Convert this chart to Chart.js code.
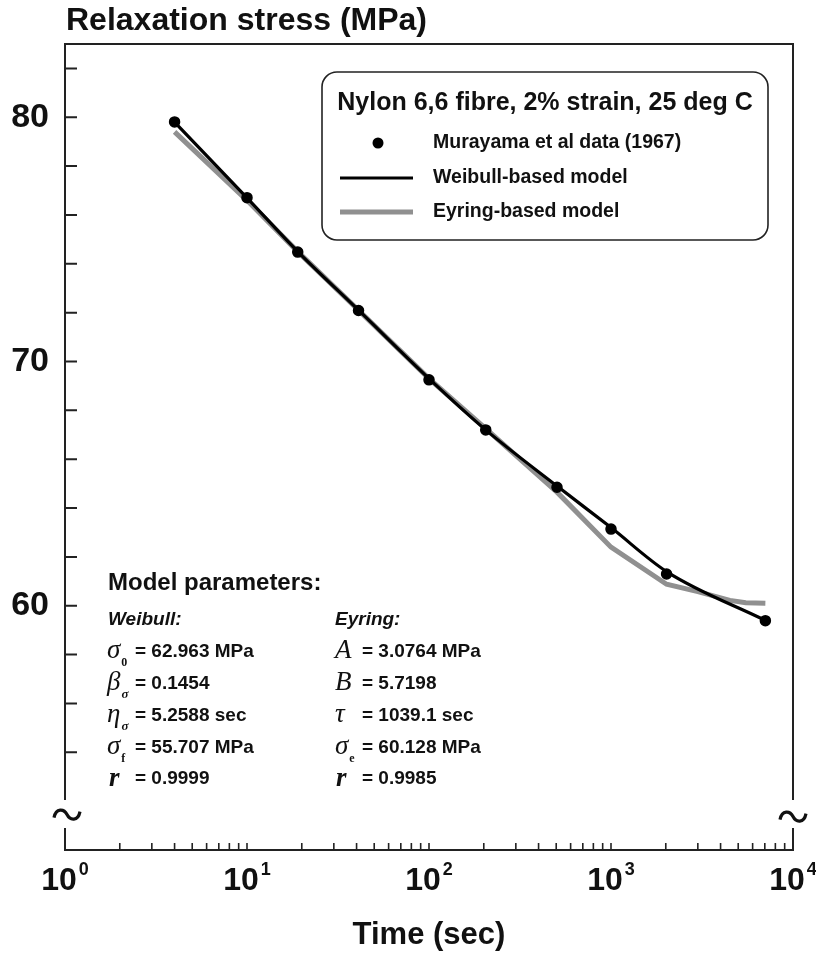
<!DOCTYPE html>
<html><head><meta charset="utf-8">
<script src="https://cdn.jsdelivr.net/npm/chart.js@4.4.1/dist/chart.umd.min.js"></script>
<style>
html,body{margin:0;padding:0;background:#fff;}
#wrap{position:relative;width:816px;height:956px;overflow:hidden;}
canvas{position:absolute;left:0;top:0;}
.t{position:absolute;font-family:"Liberation Sans",Arial,sans-serif;font-weight:bold;color:#111;white-space:nowrap;transform:translateY(-50%);line-height:1;}
.h{font-size:24px;}
.it{font-style:italic;font-size:19px;}
.v{font-size:19px;}
.sym{font-family:"Liberation Serif","Times New Roman",serif;font-style:italic;font-weight:normal;font-size:27px;}
.symb{font-family:"Liberation Serif","Times New Roman",serif;font-style:italic;font-weight:bold;font-size:27px;}
.sb{font-family:"Liberation Serif","Times New Roman",serif;font-style:normal;font-weight:bold;font-size:12px;position:relative;top:8px;margin-left:1px;}
.sbs{font-family:"Liberation Serif","Times New Roman",serif;font-style:italic;font-weight:bold;font-size:13px;position:relative;top:8px;margin-left:1px;}
</style></head><body>
<div id="wrap">
<canvas id="c" width="816" height="956"></canvas>
<div class="t h" style="left:108px;top:582px">Model parameters:</div>
<div class="t it" style="left:108px;top:618px">Weibull:</div>
<div class="t it" style="left:335px;top:618px">Eyring:</div>

<div class="t" style="left:107px;top:649px"><span class="sym">σ</span><span class="sb">0</span></div>
<div class="t v" style="left:135px;top:650px">= 62.963 MPa</div>
<div class="t" style="left:107px;top:681px"><span class="sym">β</span><span class="sbs">σ</span></div>
<div class="t v" style="left:135px;top:682px">= 0.1454</div>
<div class="t" style="left:107px;top:713px"><span class="sym">η</span><span class="sbs">σ</span></div>
<div class="t v" style="left:135px;top:714px">= 5.2588 sec</div>
<div class="t" style="left:107px;top:745px"><span class="sym">σ</span><span class="sb">f</span></div>
<div class="t v" style="left:135px;top:746px">= 55.707 MPa</div>
<div class="t" style="left:109px;top:777px"><span class="symb">r</span></div>
<div class="t v" style="left:135px;top:777px">= 0.9999</div>

<div class="t" style="left:335px;top:649px"><span class="sym">A</span></div>
<div class="t v" style="left:362px;top:650px">= 3.0764 MPa</div>
<div class="t" style="left:335px;top:681px"><span class="sym">B</span></div>
<div class="t v" style="left:362px;top:682px">= 5.7198</div>
<div class="t" style="left:335px;top:713px"><span class="sym">τ</span></div>
<div class="t v" style="left:362px;top:714px">= 1039.1 sec</div>
<div class="t" style="left:335px;top:745px"><span class="sym">σ</span><span class="sb">e</span></div>
<div class="t v" style="left:362px;top:746px">= 60.128 MPa</div>
<div class="t" style="left:336px;top:777px"><span class="symb">r</span></div>
<div class="t v" style="left:362px;top:777px">= 0.9985</div>
</div>
<script>
// ---- data ----
const timeSec    = [4, 10, 19, 41, 100, 205, 505, 1000, 2020, 7050];
const stressData = [79.81, 76.71, 74.48, 72.09, 69.25, 67.20, 64.85, 63.14, 61.30, 59.39];

const weibullTime   = [4, 10, 19, 41, 100, 205, 505, 1000, 2020, 7050];
const weibullStress = [79.8, 76.7, 74.5, 72.1, 69.3, 67.2, 64.9, 63.2, 61.4, 59.4];

const eyringTime   = [4, 10, 19, 41, 100, 205, 505, 1000, 2020, 3000, 4500, 5500, 7050];
const eyringStress = [79.4, 76.6, 74.5, 72.1, 69.3, 67.25, 64.65, 62.4, 60.88, 60.58, 60.22, 60.12, 60.1];

const yLabelValues = [60, 70, 80];
const yTickValues  = [54, 56, 58, 60, 62, 64, 66, 68, 70, 72, 74, 76, 78, 80, 82];
const xDecades     = [1, 10, 100, 1000, 10000];
const xExponents   = ['0', '1', '2', '3', '4'];
const xMinorFactors = [2, 3, 4, 5, 6, 7, 8, 9];

const seriesLabels = ['Murayama et al data (1967)', 'Weibull-based model', 'Eyring-based model'];
const legendTitle = 'Nylon 6,6 fibre, 2% strain, 25 deg C';
const yTitle = 'Relaxation stress (MPa)';
const xTitle = 'Time (sec)';

const SANS = '"Liberation Sans", Arial, sans-serif';
const NARROW = '"Liberation Sans Narrow", "Liberation Sans", Arial, sans-serif';
const INK = '#111';
const GREY = '#909090';

function pts(xs, ys) { return xs.map((x, i) => ({ x: x, y: ys[i] })); }

function tilde(ctx, cx, cy) {
  ctx.beginPath();
  ctx.moveTo(cx - 13, cy + 3);
  ctx.bezierCurveTo(cx - 11, cy - 7, cx - 3, cy - 6, cx, cy);
  ctx.bezierCurveTo(cx + 3, cy + 6, cx + 11, cy + 7, cx + 13, cy - 3);
  ctx.stroke();
}

const decor = {
  id: 'decor',
  beforeDatasetsDraw(chart) {
    const ctx = chart.ctx;
    const { left, right, top, bottom } = chart.chartArea;
    const ys = chart.scales.y, xs = chart.scales.x;
    const bTop = ys.getPixelForValue(52.05), bBot = ys.getPixelForValue(50.9), bMid = ys.getPixelForValue(51.45);
    ctx.save();
    ctx.strokeStyle = '#222';
    ctx.lineWidth = 2;
    ctx.beginPath();
    ctx.moveTo(left, bTop); ctx.lineTo(left, top); ctx.lineTo(right, top); ctx.lineTo(right, bTop);
    ctx.moveTo(left, bBot); ctx.lineTo(left, bottom); ctx.lineTo(right, bottom); ctx.lineTo(right, bBot);
    ctx.stroke();
    // y ticks (inward)
    ctx.beginPath();
    yTickValues.forEach(v => { const y = ys.getPixelForValue(v); ctx.moveTo(left, y); ctx.lineTo(left + 12, y); });
    ctx.stroke();
    // x ticks (inward)
    ctx.lineWidth = 1.6;
    ctx.beginPath();
    xDecades.slice(0, 4).forEach((d, i) => {
      const list = (i === 0 ? [] : [d]).concat(xMinorFactors.map(f => f * d));
      list.forEach(v => { const x = xs.getPixelForValue(v); ctx.moveTo(x, bottom); ctx.lineTo(x, bottom - 7); });
    });
    ctx.stroke();
    // axis break marks
    ctx.lineWidth = 3.2;
    ctx.strokeStyle = '#111';
    tilde(ctx, left + 2, bMid);
    tilde(ctx, right, bMid + 2);
    ctx.restore();
  },
  afterDraw(chart) {
    const ctx = chart.ctx;
    const { left, bottom } = chart.chartArea;
    const xs = chart.scales.x;
    ctx.save();
    ctx.fillStyle = INK;
    // y title
    ctx.font = 'bold 32px ' + SANS;
    ctx.textBaseline = 'middle';
    ctx.textAlign = 'left';
    ctx.fillText(yTitle, left + 1, 21);
    // x tick labels 10^n
    xDecades.forEach((d, i) => {
      const x = xs.getPixelForValue(d);
      ctx.font = 'bold 32px ' + NARROW;
      const w1 = ctx.measureText('10').width;
      ctx.font = 'bold 18px ' + NARROW;
      const w2 = ctx.measureText(xExponents[i]).width;
      const gap = 2;
      const x0 = x - (w1 + gap + w2) / 2;
      ctx.textAlign = 'left';
      ctx.textBaseline = 'alphabetic';
      ctx.font = 'bold 32px ' + NARROW;
      ctx.fillText('10', x0, bottom + 40);
      ctx.font = 'bold 18px ' + NARROW;
      ctx.fillText(xExponents[i], x0 + w1 + gap, bottom + 25);
    });
    // legend box
    const L = 322, T = 72, R = 768, B = 240, r = 15;
    ctx.strokeStyle = '#222';
    ctx.lineWidth = 1.6;
    ctx.beginPath();
    ctx.moveTo(L + r, T);
    ctx.arcTo(R, T, R, B, r); ctx.arcTo(R, B, L, B, r);
    ctx.arcTo(L, B, L, T, r); ctx.arcTo(L, T, R, T, r);
    ctx.closePath();
    ctx.stroke();
    ctx.textAlign = 'center';
    ctx.textBaseline = 'middle';
    ctx.font = 'bold 25px ' + SANS;
    ctx.fillText(legendTitle, (L + R) / 2, 103);
    const rows = [143, 178, 212];
    const ds = chart.data.datasets;
    ctx.fillStyle = '#000';
    ctx.beginPath(); ctx.arc(378, rows[0], 5.5, 0, Math.PI * 2); ctx.fill();
    ctx.strokeStyle = ds[1].borderColor; ctx.lineWidth = ds[1].borderWidth;
    ctx.beginPath(); ctx.moveTo(340, rows[1]); ctx.lineTo(413, rows[1]); ctx.stroke();
    ctx.strokeStyle = ds[2].borderColor; ctx.lineWidth = ds[2].borderWidth;
    ctx.beginPath(); ctx.moveTo(340, rows[2]); ctx.lineTo(413, rows[2]); ctx.stroke();
    ctx.fillStyle = INK;
    ctx.textAlign = 'left';
    ctx.font = 'bold 19.5px ' + SANS;
    seriesLabels.forEach((s, i) => ctx.fillText(s, 433, rows[i]));
    ctx.restore();
  }
};

new Chart(document.getElementById('c'), {
  type: 'line',
  data: {
    datasets: [
      { label: seriesLabels[0], data: pts(timeSec, stressData), showLine: false,
        pointRadius: 5, pointBackgroundColor: '#000', pointBorderColor: '#000', pointBorderWidth: 1.5, order: 0 },
      { label: seriesLabels[1], data: pts(weibullTime, weibullStress), borderColor: '#000', borderWidth: 3.2,
        pointRadius: 0, cubicInterpolationMode: 'monotone', fill: false, order: 1 },
      { label: seriesLabels[2], data: pts(eyringTime, eyringStress), borderColor: GREY, borderWidth: 5,
        pointRadius: 0, tension: 0, fill: false, order: 2 }
    ]
  },
  options: {
    responsive: false,
    animation: false,
    devicePixelRatio: 1,
    layout: { padding: { left: 0, right: 23, top: 44, bottom: 0 } },
    plugins: { legend: { display: false }, tooltip: { enabled: false } },
    scales: {
      x: {
        type: 'logarithmic', min: 1, max: 10000,
        grid: { display: false, drawTicks: false }, border: { display: false },
        ticks: { display: false },
        title: { display: true, text: xTitle, color: INK, font: { family: SANS, size: 31, weight: 'bold' }, padding: { top: 0, bottom: 2 } },
        afterFit(s) { s.height = 106; }
      },
      y: {
        type: 'linear', min: 50, max: 83,
        grid: { display: false, drawTicks: false, tickLength: 0 }, border: { display: false },
        afterBuildTicks(s) { s.ticks = yLabelValues.map(v => ({ value: v })); },
        ticks: { color: INK, font: { family: SANS, size: 34, weight: 'bold' }, padding: 16 },
        afterFit(s) { s.width = 65; }
      }
    }
  },
  plugins: [decor]
});
</script>
</body></html>
